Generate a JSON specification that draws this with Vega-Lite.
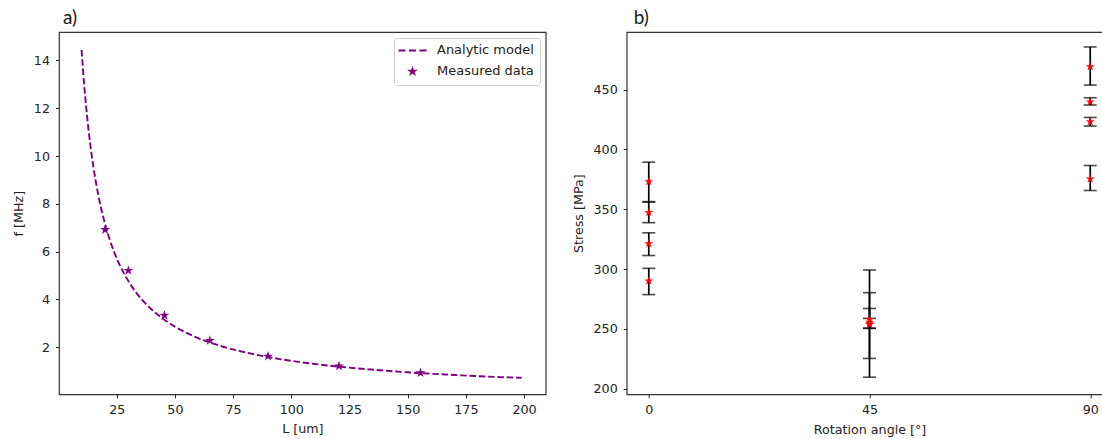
{
  "$schema": "https://vega.github.io/schema/vega-lite/v6.json",
  "background": "white",
  "padding": {"left": 11, "top": 8, "right": 0, "bottom": 0},
  "spacing": 80.7,
  "bounds": "flush",
  "resolve": {"scale": {"color": "independent"}, "legend": {"color": "independent"}},
  "config": {
    "view": {"stroke": "#333333", "strokeWidth": 1.2},
    "axis": {
      "domain": false, "grid": false, "tickSize": 3.5, "tickColor": "#222222", "tickWidth": 1,
      "labelFont": "DejaVu Sans", "labelFontSize": 12.7, "labelColor": "#222222", "labelPadding": 5.5,
      "titleFont": "DejaVu Sans", "titleFontSize": 12.7, "titleFontWeight": "normal", "titleColor": "#222222"
    },
    "title": {"font": "Lato", "fontSize": 19, "fontWeight": "normal", "color": "#1a1a1a", "anchor": "start", "frame": "group", "offset": 4}
  },
  "datasets": {
    "curve": [
      {"L": 9.9, "f": 14.44}, {"L": 11, "f": 13.0}, {"L": 12, "f": 11.92}, {"L": 13, "f": 11.0},
      {"L": 14, "f": 10.21}, {"L": 15, "f": 9.53}, {"L": 16, "f": 8.94}, {"L": 17, "f": 8.41},
      {"L": 18, "f": 7.94}, {"L": 19, "f": 7.53}, {"L": 20, "f": 7.15}, {"L": 22, "f": 6.5},
      {"L": 24, "f": 5.96}, {"L": 26, "f": 5.5}, {"L": 28, "f": 5.11}, {"L": 30, "f": 4.77},
      {"L": 33, "f": 4.33}, {"L": 36, "f": 3.97}, {"L": 40, "f": 3.58}, {"L": 45, "f": 3.18},
      {"L": 50, "f": 2.86}, {"L": 55, "f": 2.6}, {"L": 60, "f": 2.38}, {"L": 65, "f": 2.2},
      {"L": 70, "f": 2.04}, {"L": 80, "f": 1.79}, {"L": 90, "f": 1.59}, {"L": 100, "f": 1.43},
      {"L": 110, "f": 1.3}, {"L": 120, "f": 1.19}, {"L": 130, "f": 1.1}, {"L": 140, "f": 1.02},
      {"L": 150, "f": 0.95}, {"L": 160, "f": 0.89}, {"L": 170, "f": 0.84}, {"L": 180, "f": 0.79},
      {"L": 190, "f": 0.75}, {"L": 199, "f": 0.72}
    ],
    "measured": [
      {"L": 20, "f": 6.92}, {"L": 30, "f": 5.21}, {"L": 45.5, "f": 3.33}, {"L": 65, "f": 2.28},
      {"L": 90, "f": 1.62}, {"L": 120.5, "f": 1.21}, {"L": 155.5, "f": 0.93}
    ],
    "stress": [
      {"angle": 0, "stress": 373.0, "lo": 356.4, "hi": 389.4},
      {"angle": 0, "stress": 347.3, "lo": 338.8, "hi": 356.0},
      {"angle": 0, "stress": 321.2, "lo": 311.3, "hi": 330.3},
      {"angle": 0, "stress": 290.0, "lo": 278.6, "hi": 300.6},
      {"angle": 45, "stress": 254.0, "lo": 209.5, "hi": 299.2},
      {"angle": 45, "stress": 253.6, "lo": 225.2, "hi": 280.2},
      {"angle": 45, "stress": 257.8, "lo": 250.3, "hi": 267.0},
      {"angle": 45, "stress": 255.5, "lo": 250.6, "hi": 258.7},
      {"angle": 90, "stress": 469.3, "lo": 453.9, "hi": 485.8},
      {"angle": 90, "stress": 439.7, "lo": 437.2, "hi": 443.3},
      {"angle": 90, "stress": 423.2, "lo": 419.6, "hi": 426.8},
      {"angle": 90, "stress": 375.4, "lo": 365.7, "hi": 386.6}
    ]
  },
  "hconcat": [
    {
      "title": {"text": "a)", "dx": 4},
      "width": 486.7,
      "height": 362.3,
      "layer": [
        {
          "data": {"name": "curve"},
          "transform": [{"calculate": "'Analytic model'", "as": "series"}],
          "mark": {"type": "line", "strokeDash": [6.5, 2.8], "strokeWidth": 1.9, "interpolate": "monotone"},
          "encoding": {
            "x": {"field": "L", "type": "quantitative", "scale": {"domain": [0.2, 209.3], "nice": false, "zero": false},
                  "axis": {"values": [25, 50, 75, 100, 125, 150, 175, 200], "title": "L [um]", "titlePadding": 7}},
            "y": {"field": "f", "type": "quantitative", "scale": {"domain": [0.03, 15.19], "nice": false, "zero": false},
                  "axis": {"values": [2, 4, 6, 8, 10, 12, 14], "title": "f [MHz]", "titlePadding": 8, "labelPadding": 6}},
            "color": {"field": "series", "type": "nominal",
              "scale": {"domain": ["Analytic model", "Measured data"], "range": ["#800080", "#800080"]},
              "legend": {
                "title": null, "orient": "top-right", "offset": 5.5, "padding": 6,
                "labelFont": "DejaVu Sans", "labelFontSize": 13, "labelColor": "#222222", "labelOffset": 24,
                "symbolSize": 100, "symbolStrokeWidth": 1.5, "rowPadding": 7,
                "strokeColor": "#cccccc", "fillColor": "rgba(255,255,255,0.8)", "cornerRadius": 3,
                "encode": {
                  "symbols": {
                    "update": {
                      "shape": {"signal": "datum.value === 'Analytic model' ? 'stroke' : 'M0,-1L0.225,-0.309L0.951,-0.309L0.363,0.118L0.588,0.809L0,0.382L-0.588,0.809L-0.363,0.118L-0.951,-0.309L-0.225,-0.309Z'"},
                      "size": {"signal": "datum.value === 'Analytic model' ? 784 : 100"},
                      "fill": {"signal": "datum.value === 'Analytic model' ? 'transparent' : '#800080'"},
                      "stroke": {"value": "#800080"},
                      "strokeWidth": {"signal": "datum.value === 'Analytic model' ? 2 : 0.5"},
                      "strokeDash": {"signal": "datum.value === 'Analytic model' ? [7, 3.5] : [1, 0]"},
                      "opacity": {"value": 1},
                      "x": {"value": 12.5}
                    }
                  }
                }
              }
            }
          }
        },
        {
          "data": {"name": "measured"},
          "transform": [{"calculate": "'Measured data'", "as": "series"}],
          "mark": {"type": "point", "shape": "M0,-1L0.225,-0.309L0.951,-0.309L0.363,0.118L0.588,0.809L0,0.382L-0.588,0.809L-0.363,0.118L-0.951,-0.309L-0.225,-0.309Z", "filled": true, "size": 110, "opacity": 1},
          "encoding": {
            "x": {"field": "L", "type": "quantitative"},
            "y": {"field": "f", "type": "quantitative"},
            "color": {"field": "series", "type": "nominal"}
          }
        }
      ]
    },
    {
      "title": {"text": "b)", "dx": 7},
      "width": 485.6,
      "height": 362.3,
      "data": {"name": "stress"},
      "encoding": {
        "x": {"field": "angle", "type": "quantitative", "scale": {"domain": [-4.5, 94.5], "nice": false, "zero": false},
              "axis": {"values": [0, 45, 90], "title": "Rotation angle [°]", "titlePadding": 8}}
      },
      "layer": [
        {
          "mark": {"type": "rule", "color": "black", "strokeWidth": 1.7},
          "encoding": {
            "y": {"field": "lo", "type": "quantitative", "scale": {"domain": [195.2, 498.3], "nice": false, "zero": false},
                  "axis": {"values": [200, 250, 300, 350, 400, 450], "title": "Stress [MPa]", "titlePadding": 7, "labelPadding": 6}},
            "y2": {"field": "hi"}
          }
        },
        {
          "mark": {"type": "tick", "orient": "horizontal", "color": "black", "size": 13, "thickness": 1.6},
          "encoding": {"y": {"field": "lo", "type": "quantitative"}}
        },
        {
          "mark": {"type": "tick", "orient": "horizontal", "color": "black", "size": 13, "thickness": 1.6},
          "encoding": {"y": {"field": "hi", "type": "quantitative"}}
        },
        {
          "mark": {"type": "point", "shape": "M0,-1L0.225,-0.309L0.951,-0.309L0.363,0.118L0.588,0.809L0,0.382L-0.588,0.809L-0.363,0.118L-0.951,-0.309L-0.225,-0.309Z", "filled": true, "size": 90, "color": "#ff0000", "opacity": 0.95},
          "encoding": {"y": {"field": "stress", "type": "quantitative"}}
        }
      ]
    }
  ]
}
